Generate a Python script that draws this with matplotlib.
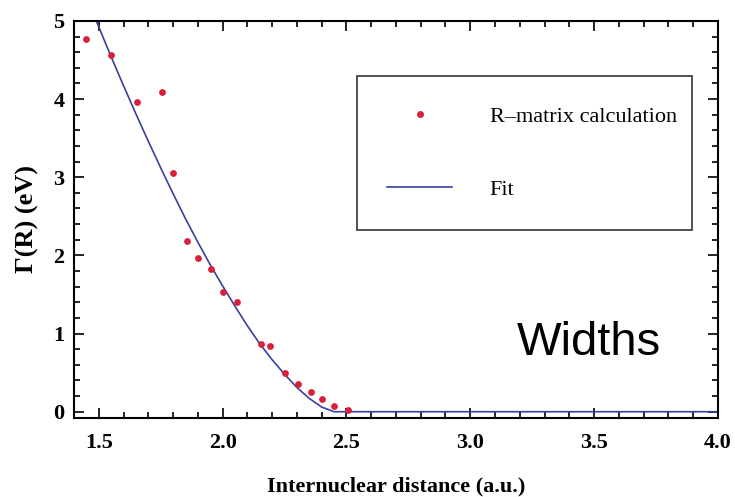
import matplotlib
matplotlib.use("Agg")
import matplotlib.pyplot as plt
from matplotlib.ticker import MultipleLocator
from matplotlib.lines import Line2D

# R-matrix calculation points
r_calc = [1.45, 1.55, 1.655, 1.755, 1.80, 1.855, 1.90, 1.955, 2.00, 2.06,
          2.155, 2.19, 2.25, 2.305, 2.355, 2.40, 2.45, 2.505]
g_calc = [4.77, 4.56, 3.96, 4.09, 3.05, 2.18, 1.97, 1.82, 1.53, 1.40,
          0.86, 0.84, 0.50, 0.36, 0.25, 0.16, 0.07, 0.02]

# fit curve
r_fit = [1.49, 1.55, 1.60, 1.65, 1.70, 1.75, 1.80, 1.85, 1.90, 1.95, 2.00,
         2.05, 2.10, 2.15, 2.20, 2.25, 2.30, 2.35, 2.40, 2.45, 4.0]
g_fit = [5.00, 4.54, 4.17, 3.81, 3.46, 3.12, 2.79, 2.47, 2.17, 1.88, 1.61,
         1.35, 1.10, 0.87, 0.665, 0.48, 0.31, 0.17, 0.06, 0.0, 0.0]

serif = ["Liberation Serif", "DejaVu Serif"]
plt.rcParams["font.family"] = serif

fig = plt.figure(figsize=(7.35, 4.97), dpi=100)
ax = fig.add_axes([0.1007, 0.159, 0.876, 0.799])

ax.plot(r_fit, g_fit, color="#3a3fa0", lw=1.2, zorder=2)
ax.scatter(r_calc, g_calc, s=24, color="#d8203a", zorder=3, linewidths=0)

ax.set_xlim(1.4, 4.0)
ax.set_ylim(-0.08, 5.0)
ax.xaxis.set_major_locator(MultipleLocator(0.5))
ax.xaxis.set_minor_locator(MultipleLocator(0.1))
ax.yaxis.set_major_locator(MultipleLocator(1))
ax.yaxis.set_minor_locator(MultipleLocator(0.2))
ax.xaxis.set_major_formatter(plt.FuncFormatter(lambda v, p: f"{v:.1f}"))
ax.yaxis.set_major_formatter(plt.FuncFormatter(lambda v, p: f"{v:.0f}"))
ax.tick_params(which="both", direction="in", top=True, right=True, width=1.2)
ax.tick_params(which="major", length=7, labelsize=16)
ax.tick_params(axis="x", which="major", pad=11)
ax.tick_params(axis="y", which="major", pad=7)
ax.tick_params(which="minor", length=4)
for lab in ax.get_xticklabels() + ax.get_yticklabels():
    lab.set_fontweight("bold")
for s in ax.spines.values():
    s.set_linewidth(1.5)

ax.set_xlabel("Internuclear distance (a.u.)", fontsize=16, fontweight="bold", labelpad=17)
ax.set_ylabel("Γ(R) (eV)", fontsize=19, fontweight="bold", labelpad=10)

handles = [Line2D([], [], ls="none", marker="o", ms=4, color="#d8203a"),
           Line2D([], [], color="#3a3fa0", lw=1.2)]
leg = ax.legend(handles, ["R–matrix calculation", "Fit"], loc="upper left",
                bbox_to_anchor=(0.44, 0.86, 0.52, 0.0), mode="expand",
                fontsize=16, frameon=True, fancybox=False, borderpad=1.35,
                labelspacing=2.35, handlelength=2.9, handletextpad=1.7,
                borderaxespad=0)
leg.get_frame().set_edgecolor("black")
leg.get_frame().set_linewidth(1.2)

ax.text(0.8, 0.19, "Widths", transform=ax.transAxes, fontsize=34,
        family="Liberation Sans", ha="center", va="center")

fig.savefig("out.png", dpi=100)
